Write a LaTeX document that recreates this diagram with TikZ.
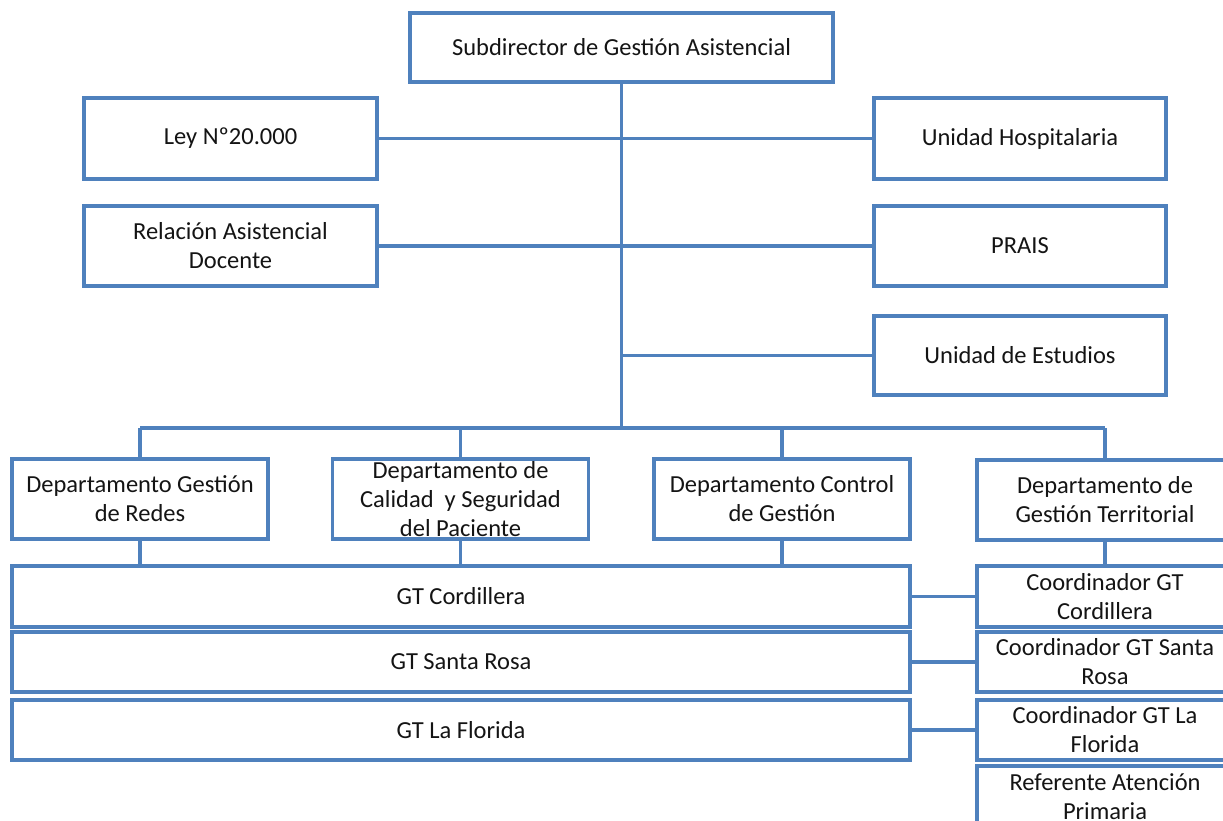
\documentclass[tikz,border=0pt]{standalone}
\usepackage{fontspec}
\setmainfont{Carlito}
\definecolor{orgblue}{RGB}{79,129,189}
\definecolor{orgtext}{RGB}{20,20,20}
\begin{document}
\begin{tikzpicture}[x=1pt,y=-1pt,
  orgbox/.style={draw=orgblue, line width=3.2pt, fill=white, inner sep=0pt,
    align=center, text=orgtext, font=\fontsize{24.5}{29}\selectfont},
  link/.style={draw=orgblue, line width=3.2pt}]
\useasboundingbox (0,0) rectangle (1223,821);
\fill[white] (0,0) rectangle (1223,821);
\clip (0,0) rectangle (1223,821);

% head of the chart
\node[orgbox, minimum width=423pt, minimum height=69pt] (top) at (621.5,47.5) {Subdirector de Gestión Asistencial};

% staff units
\node[orgbox, minimum width=293pt, minimum height=81pt] (ley) at (230.5,138.5) {Ley Nº20.000};
\node[orgbox, minimum width=293pt, minimum height=80pt] (rad) at (230.5,246) {Relación Asistencial\\Docente};
\node[orgbox, minimum width=292pt, minimum height=81pt] (uh) at (1020,138.5) {Unidad Hospitalaria};
\node[orgbox, minimum width=292pt, minimum height=80pt] (prais) at (1020,246) {PRAIS};
\node[orgbox, minimum width=292pt, minimum height=79pt] (est) at (1020,355.5) {Unidad de Estudios};

% departments
\node[orgbox, minimum width=256pt, minimum height=80pt] (redes) at (140,499) {Departamento Gestión\\de Redes};
\node[orgbox, minimum width=256pt, minimum height=80pt] (cal) at (460.5,499) {Departamento de\\Calidad\ \ y Seguridad\\del Paciente};
\node[orgbox, minimum width=256pt, minimum height=80pt] (ctrl) at (782,499) {Departamento Control\\de Gestión};
\node[orgbox, minimum width=256pt, minimum height=80pt] (terr) at (1105,500) {Departamento de\\Gestión Territorial};

% territorial management groups
\node[orgbox, minimum width=898pt, minimum height=61pt] (gtc) at (461,596.5) {GT Cordillera};
\node[orgbox, minimum width=898pt, minimum height=60pt] (gts) at (461,662) {GT Santa Rosa};
\node[orgbox, minimum width=898pt, minimum height=60pt] (gtf) at (461,730) {GT La Florida};

% coordinators
\node[orgbox, minimum width=256pt, minimum height=61pt] (coc) at (1105,596.5) {Coordinador GT\\Cordillera};
\node[orgbox, minimum width=256pt, minimum height=60pt] (cos) at (1105,662) {Coordinador GT Santa\\Rosa};
\node[orgbox, minimum width=256pt, minimum height=60pt] (cof) at (1105,730) {Coordinador GT La\\Florida};
\node[orgbox, minimum width=256pt, minimum height=62pt] (ref) at (1105,797) {Referente Atención\\Primaria};

% trunk and bus
\coordinate (bus) at (621.5,428);
\path[link] (top.south) -- (bus);
\path[link] (redes.north |- bus) -- (terr.north |- bus);

% staff links
\path[link] (ley.east) -- (uh.west);
\path[link] (rad.east) -- (prais.west);
\path[link] (est.west) -- (est.west -| top.south);

% department drops
\foreach \d in {redes,cal,ctrl,terr}
  \path[link] (\d.north |- bus) -- (\d.north);

% departments to groups
\foreach \d in {redes,cal,ctrl}
  \path[link] (\d.south) -- (\d.south |- gtc.north);
\path[link] (terr.south) -- (coc.north);

% groups to coordinators
\path[link] (gtc.east) -- (coc.west);
\path[link] (gts.east) -- (cos.west);
\path[link] (gtf.east) -- (cof.west);
\end{tikzpicture}
\end{document}
